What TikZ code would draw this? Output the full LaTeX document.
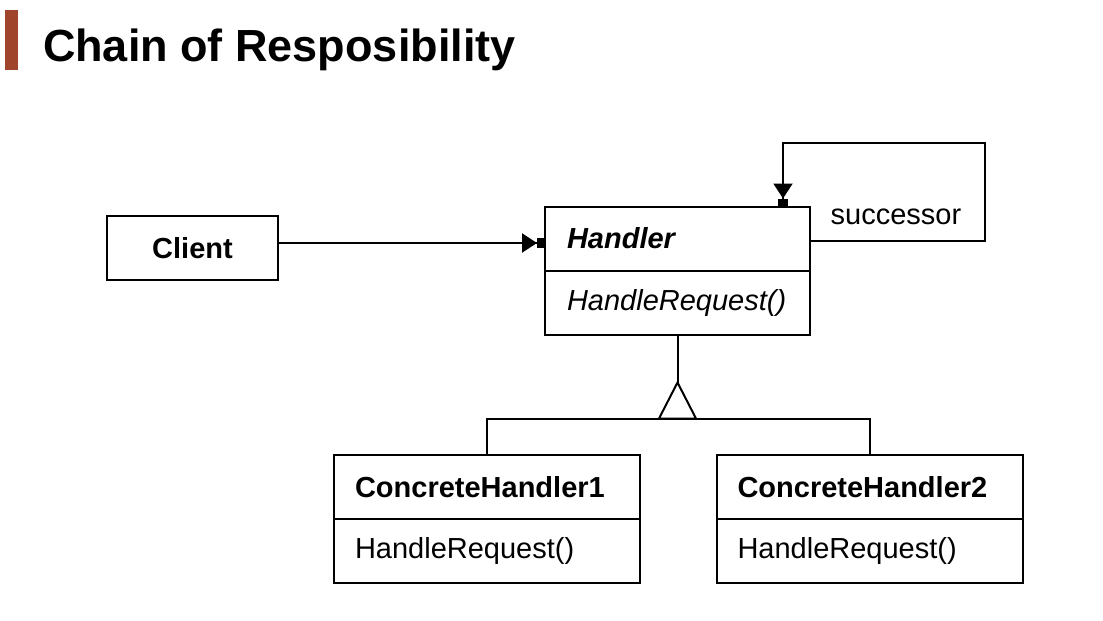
\documentclass[tikz,border=0pt]{standalone}
\usepackage{fontspec}
\setmainfont{Liberation Sans}
\usetikzlibrary{arrows.meta}
\definecolor{titlebar}{RGB}{160,68,44}
\newcommand\boxfont{\fontsize{29}{34}\selectfont}
\begin{document}
\begin{tikzpicture}
  [x=1pt,y=-1pt,line width=2pt,every node/.style={outer sep=0pt}]
  \tikzstyle{part} = [draw,rectangle,minimum height=64pt,inner xsep=21pt,align=left]
  \tikzstyle{assoc} = [-{Triangle[width=19pt,length=15pt]Rectangle[width=10pt,length=8pt]}]
  \useasboundingbox[fill=white] (0,0) rectangle (1103,621);
  % title
  \fill[titlebar] (5,10) rectangle (18,70);
  \node[anchor=base west,inner sep=0pt,font=\fontsize{45}{54}\selectfont\bfseries] (title) at (43,61) {Chain of Resposibility};
  % classes
  \node[draw,minimum width=171pt,minimum height=64pt,font=\boxfont\bfseries] (client) at (192.5,248) {Client};
  \node[part,text width=221pt,inner xsep=22pt,font=\boxfont\bfseries\itshape] (hname) at (677.5,238.5) {Handler};
  \node[part,text width=221pt,inner xsep=22pt,font=\boxfont\itshape,anchor=north] (hmeth) at (hname.south) {HandleRequest()};
  \foreach \i/\x in {1/487,2/869.5} {
    \node[part,text width=264pt,font=\boxfont\bfseries] (ch\i n) at (\x,487) {ConcreteHandler\i};
    \node[part,text width=264pt,font=\boxfont,anchor=north] (ch\i m) at (ch\i n.south) {HandleRequest()};
  }
  % associations
  \draw[assoc] ([yshift=5pt]client.east) -- ([yshift=5pt]client.east -| hname.west);
  \coordinate (loop) at (985,143);
  \draw[assoc] ([yshift=-2.5pt]hname.east) -| (loop) -| ([xshift=105.5pt]hname.north);
  \node[anchor=base,font=\boxfont] (succ) at (896,224) {successor};
  % inheritance
  \coordinate (tip) at ([yshift=-48pt]hmeth.south);
  \coordinate (base) at ([yshift=-84pt]hmeth.south);
  \draw (hmeth.south) -- (tip);
  \draw[line join=miter] (tip) -- ([xshift=-18.5pt]base) -- ([xshift=18.5pt]base) -- cycle;
  \draw (ch1n.north) -- (ch1n.north |- base) -- (ch2n.north |- base) -- (ch2n.north);
\end{tikzpicture}
\end{document}
